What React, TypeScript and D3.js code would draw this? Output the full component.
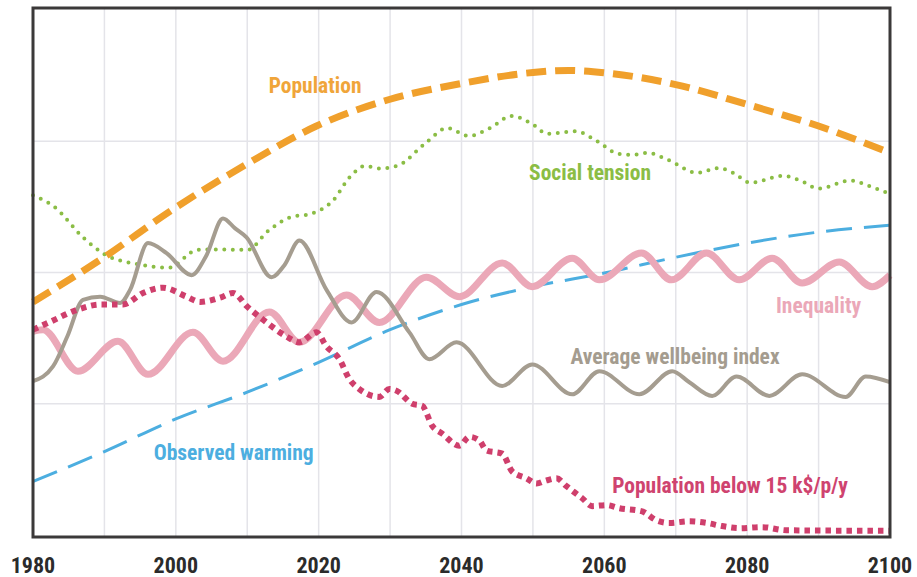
import React from "react";
import * as d3 from "d3";

const xTicks = [1980, 2000, 2020, 2040, 2060, 2080, 2100];
const xGrid = [1990, 2000, 2010, 2020, 2030, 2040, 2050, 2060, 2070, 2080, 2090];
const yGrid = [25, 50, 75];

const populationYears = [1980, 1989.4, 2000, 2010, 2019.7, 2030, 2040, 2050, 2055, 2061, 2070, 2080, 2090, 2100];
const populationValues = [44.4, 52.4, 62.4, 70.7, 77.9, 83.0, 86.0, 88.1, 88.5, 87.9, 85.8, 82.0, 77.9, 72.8];

const warmingYears = [1980, 1990, 2000, 2010, 2020, 2030, 2040, 2050, 2060, 2070, 2080, 2090, 2100];
const warmingValues = [10.2, 15.9, 22.1, 27.2, 32.9, 39.1, 43.9, 47.3, 49.9, 52.9, 55.6, 57.7, 59.0];

const tensionYears = [1980, 1983, 1987, 1990, 1995, 1999, 2003, 2006, 2010, 2013, 2016, 2019, 2022, 2024.5, 2026.5, 2028.5, 2031, 2035, 2038, 2041, 2044, 2047, 2050, 2052, 2056, 2059, 2062, 2064, 2066, 2069, 2073, 2076, 2078, 2080.5, 2085, 2087.5, 2090, 2094.5, 2097, 2100];
const tensionValues = [64.7, 62.5, 56.7, 53.5, 51.5, 50.9, 54.3, 54.4, 54.3, 58.0, 60.5, 61.2, 63.7, 68.4, 70.3, 69.8, 70.3, 74.7, 77.5, 76.0, 77.5, 79.8, 78.2, 76.4, 76.9, 75.0, 72.6, 72.4, 72.8, 71.4, 69.0, 69.9, 69.0, 67.1, 68.4, 67.5, 66.0, 67.5, 66.5, 65.0];

const wellbeingYears = [1980, 1982.8, 1984.8, 1987, 1989.4, 1992.2, 1993.6, 1996.1, 1998.7, 2002.2, 2004.3, 2006.6, 2008.3, 2009.9, 2013.4, 2015.2, 2017.3, 2021.1, 2024.6, 2028.1, 2032.7, 2035.5, 2039.3, 2045.7, 2049.9, 2055.5, 2059.3, 2064.9, 2069.5, 2071.9, 2075.1, 2078.5, 2083.1, 2087.7, 2093.8, 2096.6, 2100];
const wellbeingValues = [29.3, 32.1, 37.8, 44.8, 45.4, 44.2, 46.7, 55.6, 53.7, 49.5, 53.3, 60.3, 58.4, 56.7, 49.1, 51.4, 56.1, 46.7, 40.5, 46.3, 38.6, 33.5, 36.7, 28.4, 32.5, 26.8, 31.2, 26.8, 31.2, 29.1, 26.5, 30.2, 26.5, 30.6, 26.3, 30.2, 29.1];

const inequalityYears = [1980, 1981.4, 1986.3, 1991.9, 1996.1, 2002.4, 2006.6, 2013.1, 2017.3, 2023.9, 2028.5, 2035.1, 2039.7, 2045.7, 2049.9, 2055.5, 2059.3, 2065.2, 2069.4, 2074.3, 2078.9, 2083.5, 2087.7, 2092.9, 2097.5, 2100];
const inequalityValues = [38.8, 39.1, 31.2, 36.9, 30.6, 38.6, 33.1, 42.5, 36.7, 45.7, 40.5, 49.1, 45.4, 51.8, 47.3, 52.7, 48.6, 53.7, 48.6, 53.7, 48.6, 52.7, 48.0, 52.0, 47.3, 49.5];

const povertyYears = [1980, 1982.4, 1986.2, 1989.4, 1992.6, 1995.4, 1998.2, 2001.5, 2003.4, 2006.2, 2008, 2010, 2012.7, 2015.5, 2017.3, 2019.7, 2021.1, 2022.9, 2024.3, 2025.7, 2028.5, 2029.9, 2031, 2033.1, 2034.5, 2035.9, 2037.3, 2039.7, 2041.1, 2042.5, 2043.5, 2045.7, 2047.1, 2049.1, 2050.5, 2051.9, 2053.3, 2054.7, 2056.9, 2058.3, 2060.3, 2062.1, 2065.3, 2067.3, 2069.1, 2071.9, 2074.3, 2076.5, 2078.9, 2082.1, 2085.5, 2100];
const povertyValues = [39.1, 40.6, 42.9, 43.9, 43.9, 46.1, 47.1, 45.4, 44.4, 45.2, 46.1, 43.5, 40.5, 37.8, 36.7, 38.6, 35.9, 33.5, 29.7, 27.8, 26.3, 27.8, 27.4, 25.0, 24.6, 20.8, 19.3, 17.0, 18.7, 18.0, 16.1, 15.5, 12.1, 10.8, 9.8, 10.4, 10.8, 9.3, 7.0, 5.5, 5.7, 5.1, 4.5, 2.8, 2.3, 2.6, 2.3, 1.7, 1.3, 1.5, 0.9, 0.8];

const labelNames = ["Population", "Social tension", "Inequality", "Average wellbeing index", "Observed warming", "Population below 15 k$/p/y"];
const labelYears = [2019.5, 2058, 2090, 2069.9, 2008.1, 2077.6];
const labelValues = [84.2, 67.6, 42.3, 32.6, 14.3, 8.0];
const labelColors = ["#f0a53a", "#8bbd45", "#eba8b8", "#a49c8f", "#4caee0", "#cf436f"];

const W = 917;
const H = 577;
const FONT = "'Liberation Sans Narrow', 'Arial Narrow', 'Roboto Condensed', sans-serif";

export default function App() {
  const x = d3.scaleLinear().domain([1980, 2100]).range([33, 890]);
  const y = d3.scaleLinear().domain([0, 100]).range([535, 10]);
  const top = 8;
  const bottom = 537;

  const mk = (years: number[], vals: number[], curve: any) =>
    d3
      .line<number>()
      .x((_, i) => x(years[i]))
      .y((v) => y(v))
      .curve(curve)(vals) || "";

  return (
    <svg
      width={W}
      height={H}
      style={{ position: "absolute", left: 0, top: 0, display: "block", background: "#fff" }}
    >
      <rect x={0} y={0} width={W} height={H} fill="#fff" />
      {xGrid.map((g) => (
        <line key={"vx" + g} x1={x(g)} x2={x(g)} y1={top} y2={bottom} stroke="#e4e4e9" strokeWidth={1.5} />
      ))}
      {yGrid.map((g) => (
        <line key={"hy" + g} x1={x(1980)} x2={x(2100)} y1={y(g)} y2={y(g)} stroke="#e4e4e9" strokeWidth={1.5} />
      ))}

      <path d={mk(warmingYears, warmingValues, d3.curveMonotoneX)} fill="none" stroke="#4caee0" strokeWidth={3} strokeDasharray="26 12" />
      <path d={mk(tensionYears, tensionValues, d3.curveMonotoneX)} fill="none" stroke="#8bbd45" strokeWidth={4} strokeDasharray="0 8.5" strokeLinecap="round" />
      <path d={mk(inequalityYears, inequalityValues, d3.curveMonotoneX)} fill="none" stroke="#eba8b8" strokeWidth={7} />
      <path d={mk(wellbeingYears, wellbeingValues, d3.curveMonotoneX)} fill="none" stroke="#a59d90" strokeWidth={4} />
      <path d={mk(povertyYears, povertyValues, d3.curveMonotoneX)} fill="none" stroke="#cf3f6c" strokeWidth={6} strokeDasharray="5.5 5" />
      <path d={mk(populationYears, populationValues, d3.curveMonotoneX)} fill="none" stroke="#f0a02c" strokeWidth={7} strokeDasharray="20 9" />

      <rect x={x(1980)} y={top} width={x(2100) - x(1980)} height={bottom - top} fill="none" stroke="#3b3939" strokeWidth={3} />

      {labelNames.map((n, i) => (
        <text
          key={n}
          x={x(labelYears[i])}
          y={y(labelValues[i])}
          textAnchor="middle"
          fill={labelColors[i]}
          fontFamily={FONT}
          fontWeight="bold"
          fontSize={21.5}
        >
          {n}
        </text>
      ))}

      {xTicks.map((t) => (
        <text
          key={"t" + t}
          x={x(t)}
          y={573}
          textAnchor="middle"
          fill="#2b2b2b"
          fontFamily={FONT}
          fontWeight="bold"
          fontSize={22}
        >
          {t}
        </text>
      ))}
    </svg>
  );
}
